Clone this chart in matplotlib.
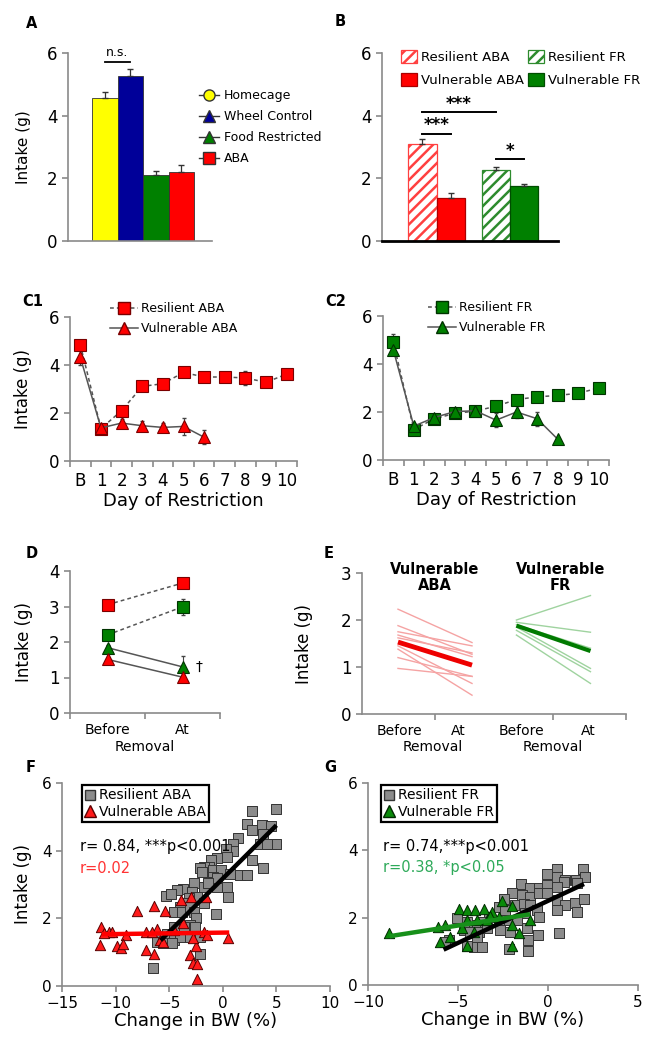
import numpy as np
import matplotlib
matplotlib.use('Agg')
import matplotlib.pyplot as plt
from matplotlib.lines import Line2D
from matplotlib.patches import Patch

plt.rcParams['font.family'] = ['DejaVu Sans']
plt.rcParams['hatch.linewidth'] = 1.8

# ---------------- data ----------------
# A
groups_a = ['Homecage', 'Wheel Control', 'Food Restricted', 'ABA']
intake_a = [4.57, 5.27, 2.1, 2.2]
sem_a = [0.17, 0.22, 0.12, 0.23]
ns_y = 5.72

# B
groups_b = ['Resilient ABA', 'Vulnerable ABA', 'Resilient FR', 'Vulnerable FR']
intake_b = [3.1, 1.38, 2.25, 1.75]
sem_b = [0.15, 0.14, 0.1, 0.07]
sig_pairs = [(0, 2), (0, 1), (2, 3)]
sig_y = [4.12, 3.42, 2.62]
sig_txt = ['***', '***', '*']

# C1 / C2
days = ['B', '1', '2', '3', '4', '5', '6', '7', '8', '9', '10']
res_aba = [4.85, 1.35, 2.1, 3.11, 3.22, 3.69, 3.5, 3.5, 3.46, 3.28, 3.62]
res_aba_sem = [0.15, 0.1, 0.15, 0.2, 0.15, 0.15, 0.2, 0.1, 0.3, 0.1, 0.12]
vul_aba = [4.32, 1.38, 1.58, 1.47, 1.4, 1.44, 0.99]
vul_aba_sem = [0.3, 0.1, 0.15, 0.2, 0.2, 0.35, 0.3]
res_fr = [4.92, 1.27, 1.72, 1.94, 2.04, 2.24, 2.52, 2.63, 2.69, 2.78, 3.0]
res_fr_sem = [0.35, 0.1, 0.1, 0.1, 0.1, 0.1, 0.1, 0.1, 0.1, 0.1, 0.15]
vul_fr = [4.6, 1.41, 1.77, 2.02, 2.05, 1.66, 2.0, 1.72, 0.87]
vul_fr_sem = [0.2, 0.1, 0.1, 0.1, 0.1, 0.3, 0.25, 0.3, 0.05]

# D
phase = ['Before', 'At']
d_res_aba = [3.05, 3.66]
d_res_aba_sem = [0.1, 0.15]
d_res_fr = [2.2, 2.99]
d_res_fr_sem = [0.08, 0.22]
d_vul_fr = [1.84, 1.3]
d_vul_fr_sem = [0.07, 0.3]
d_vul_aba = [1.51, 1.01]
d_vul_aba_sem = [0.05, 0.05]

# E (individual animals + group mean)
e_aba_before = [2.23, 1.88, 1.75, 1.68, 1.62, 1.45, 1.38, 1.2, 0.97]
e_aba_at = [1.52, 1.27, 1.45, 1.22, 1.3, 0.65, 0.4, 0.8, 0.8]
e_fr_before = [2.0, 1.95, 1.9, 1.85, 1.78, 1.68]
e_fr_at = [2.52, 1.74, 1.4, 0.97, 0.9, 0.65]
e_aba_mean = [1.53, 1.04]
e_fr_mean = [1.88, 1.34]

# F
fx_res = [2.76, 5.0, 2.23, 2.76, 3.68, 4.46, 3.75, 4.5, 5.0, 3.47, 4.1, 1.39, 0.99, 0.99, 0.28,
          -0.56, -1.08, -1.27, -1.73, -2.1, -1.95, -0.87, -0.15, 0.37, 0.68, 1.61, 2.23, 2.76,
          3.72, -0.87, -1.08, -1.24, -0.56, 0.37, 0.46, -0.56, -1.8, -1.42, -3.72, -4.27, -5.3,
          -4.83, -2.72, -2.88, -2.41, -3.19, -3.34, -3.96, -4.58, -3.81, -3.03, -2.72, -1.73,
          -0.62, -2.48, -3.03, -3.65, -4.58, -5.2, -5.82, -6.13, -5.57, -4.58, -3.96, -3.03,
          -2.1, -2.17, -6.5, -4.74, -2.63]
fy_res = [5.17, 5.22, 4.78, 4.6, 4.75, 4.72, 4.5, 4.2, 4.19, 4.19, 4.19, 4.38, 4.2, 4.0, 4.06,
          3.77, 3.72, 3.52, 3.52, 3.49, 3.37, 3.44, 3.42, 3.8, 3.32, 3.29, 3.29, 3.72, 3.5, 3.22,
          3.08, 2.98, 2.93, 2.93, 2.64, 3.2, 2.93, 3.05, 2.88, 2.83, 2.67, 2.73, 3.03, 2.78, 2.64,
          2.59, 2.44, 2.34, 2.19, 2.19, 2.34, 2.19, 2.44, 2.14, 2.0, 1.8, 1.75, 1.75, 1.55, 1.46,
          1.31, 1.26, 1.36, 1.46, 1.46, 1.46, 0.96, 0.52, 1.28, 1.75]
fx_vul = [-11.4, -11.5, -10.6, -10.3, -9.07, -9.85, -9.54, -9.29, -8.05, -7.12, -7.15, -6.44,
          -6.44, -6.13, -5.82, -5.42, -4.58, -3.9, -3.72, -2.94, -2.48, -3.1, -2.79, -2.42,
          -2.42, -1.55, -1.8, 0.46, -11.1, -6.6, -5.6, -2.79, -1.49]
fy_vul = [1.75, 1.21, 1.6, 1.6, 1.5, 1.18, 1.11, 1.24, 2.22, 1.6, 1.06, 0.94, 2.36, 1.67, 1.36,
          2.22, 1.65, 2.54, 1.85, 2.64, 1.18, 0.91, 0.67, 0.65, 0.2, 2.64, 1.6, 1.41, 1.57, 1.6,
          1.31, 1.41, 1.5]
f_fit_res_x, f_fit_res_y = [-5.8, 5.0], [1.35, 4.75]
f_fit_vul_x, f_fit_vul_y = [-11.3, 0.6], [1.53, 1.58]

# G
gx_res = [0.5, 1.93, -0.06, 0.5, 0.96, 1.57, 2.07, 0.87, -1.5, -0.98, -0.52, -0.06, 0.5, -2.0,
          -1.44, -0.98, -0.52, -0.06, 0.5, 0.96, 1.52, 1.98, 1.61, 0.5, -2.46, -2.74, -2.37,
          -1.81, -1.35, -0.98, -0.61, -0.52, -1.26, -1.72, -2.28, -2.74, -3.3, -3.67, -4.04,
          -4.5, -4.69, -4.31, -3.85, -3.39, -2.65, -2.09, -1.17, -1.13, -1.13, -2.19, -3.94,
          -4.13, -3.67, -4.5, -5.52, -5.7, -5.06, -0.57, 0.59, 1.61]
gy_res = [3.46, 3.46, 3.31, 3.21, 3.13, 3.11, 3.21, 3.06, 3.01, 2.87, 2.87, 2.96, 2.91, 2.72,
          2.67, 2.62, 2.72, 2.72, 2.52, 2.37, 2.44, 2.54, 2.17, 2.24, 2.54, 2.32, 2.22, 2.37,
          2.42, 2.37, 2.22, 2.03, 2.13, 1.93, 1.93, 1.88, 2.03, 1.88, 1.78, 1.88, 1.63, 1.58,
          1.58, 1.68, 1.63, 1.58, 1.68, 1.35, 1.02, 1.06, 1.39, 1.14, 1.14, 1.16, 1.33, 1.28,
          1.98, 1.50, 1.55, 3.03]
gx_vul = [-8.81, -6.13, -5.7, -5.98, -4.96, -4.5, -4.04, -3.57, -3.11, -2.56, -2.0, -4.5,
          -3.94, -3.39, -2.74, -2.0, -0.98, -4.5, -1.63, -2.0, -4.13, -4.78, -5.43, -3.2]
gy_vul = [1.53, 1.73, 1.78, 1.28, 2.27, 2.22, 2.22, 2.27, 2.17, 2.5, 2.35, 1.93, 1.93, 1.93,
          2.03, 1.78, 1.93, 1.16, 1.55, 1.16, 1.58, 1.68, 1.43, 2.05]
g_fit_res_x, g_fit_res_y = [-5.8, 2.0], [1.05, 3.0]
g_fit_vul_x, g_fit_vul_y = [-8.8, -1.0], [1.45, 2.1]

# ---------------- figure ----------------
W, H = 656, 1050
fig = plt.figure(figsize=(W / 100, H / 100), dpi=100)

RED, DRED = '#ff0000', '#7a0000'
GRN, DGRN = '#008000', '#003300'
AXC = '#8a8a8a'
LINEC = '#555555'


def box(l, t, r, b):
    return [l / W, 1 - b / H, (r - l) / W, (b - t) / H]


def style(ax, size=12):
    for s in ['top', 'right']:
        ax.spines[s].set_visible(False)
    for s in ['left', 'bottom']:
        ax.spines[s].set_color(AXC)
        ax.spines[s].set_linewidth(1.2)
    ax.tick_params(colors=AXC, labelcolor='black', direction='out', length=4,
                   width=1.2, labelsize=size)


def ylab(ax, right_px, size=12):
    ax.set_ylabel('Intake (g)', fontsize=size)
    p = ax.get_position()
    ax.yaxis.set_label_coords((right_px / W - p.x0) / p.width, 0.5)


def panel(txt, x, y):
    fig.text(x / W, 1 - y / H, txt, fontsize=10.5, fontweight='bold', va='center')


def figlegend(ax, handles, labels, x, y, **kw):
    opts = dict(loc='upper left', bbox_to_anchor=(x / W, 1 - y / H),
                bbox_transform=fig.transFigure, frameon=False, borderaxespad=0,
                borderpad=0, fontsize=9)
    opts.update(kw)
    return ax.legend(handles, labels, **opts)


# ---- A ----
axA = fig.add_axes(box(68, 53, 212, 241))
style(axA)
xa = np.arange(len(groups_a))
cols_a = ['#ffff00', '#000099', GRN, RED]
axA.bar(xa, intake_a, width=1.0, color=cols_a, edgecolor='#333333', linewidth=0.6,
        yerr=[np.zeros(len(sem_a)), sem_a],
        error_kw=dict(ecolor='#333333', elinewidth=0.9, capsize=2))
axA.set_xlim(-1.44, 4.2)
axA.set_ylim(0, 6)
axA.set_yticks([0, 2, 4, 6])
axA.set_xticks([])
axA.plot([xa[0], xa[1]], [ns_y, ns_y], color='black', lw=1.3)
axA.text((xa[0] + xa[1]) / 2, ns_y + 0.08, 'n.s.', ha='center', va='bottom', fontsize=9)
ylab(axA, 31, 11)
mk_a = ['o', '^', '^', 's']
hA = [Line2D([], [], color='#333333', lw=1, marker=m, mfc=c, mec='#333333', ms=8)
      for m, c in zip(mk_a, cols_a)]
figlegend(axA, hA, groups_a, 199, 89, handlelength=1.6, handletextpad=0.4,
          labelspacing=0.65)
panel('A', 26, 23)

# ---- B ----
axB = fig.add_axes(box(382, 53, 558, 241))
style(axB)
xb = np.array([0, 1, 2.6, 3.6])
fc_b = ['white', RED, 'white', GRN]
ec_b = ['#ff4040', '#aa0000', '#2e8b2e', '#004d00']
hatch_b = ['///', None, '///', None]
for i in range(len(groups_b)):
    axB.bar(xb[i], intake_b[i], width=1.0, color=fc_b[i], edgecolor=ec_b[i],
            hatch=hatch_b[i], linewidth=0.9,
            yerr=[[0], [sem_b[i]]], error_kw=dict(ecolor='#333333', elinewidth=0.9, capsize=2))
axB.set_xlim(-1.43, 4.8)
axB.set_ylim(0, 6)
axB.set_yticks([0, 2, 4, 6])
axB.set_xticks([])
axB.spines['bottom'].set_color('black')
axB.spines['bottom'].set_linewidth(2)
for (i, j), yv, t in zip(sig_pairs, sig_y, sig_txt):
    axB.plot([xb[i], xb[j]], [yv, yv], color='black', lw=1.4)
    axB.text((xb[i] + xb[j]) / 2, yv - 0.02, t, ha='center', va='bottom', fontsize=12,
             fontweight='bold')
hB = [Patch(facecolor=fc_b[k], edgecolor=ec_b[k], hatch=hatch_b[k], lw=0.9)
      for k in range(len(groups_b))]
figlegend(axB, hB, groups_b, 401, 50, ncol=2, handlelength=1.2, handleheight=1.1,
          handletextpad=0.3, columnspacing=0.35, labelspacing=0.7, fontsize=9.5)
panel('B', 335, 22)


# ---- C1 / C2 ----
def day_axis(ax):
    n = len(days)
    ax.set_xlim(-0.5, n - 0.5)
    ax.set_xticks(np.arange(-0.5, n, 1))
    ax.set_xticklabels([])
    ax.set_xticks(np.arange(n), minor=True)
    ax.set_xticklabels(days, minor=True)
    ax.tick_params(axis='x', which='minor', length=0, pad=8, labelsize=12)
    ax.set_ylim(0, 6)
    ax.set_yticks([0, 2, 4, 6])
    ax.set_xlabel('Day of Restriction', fontsize=13)
    ax.xaxis.set_label_coords(0.5, -0.215)


def course(ax, y, e, mk, fc, ec, ls):
    x = np.arange(len(y))
    ax.errorbar(x, y, yerr=e, fmt='none', ecolor='#444444', elinewidth=0.8, capsize=1.5,
                zorder=2)
    ax.plot(x, y, color=LINEC, lw=1.1, ls=ls, marker=mk, mfc=fc, mec=ec, mew=0.8, ms=8.5,
            zorder=3)


dash = (0, (2.5, 2))
axC1 = fig.add_axes(box(70, 317, 297, 461))
style(axC1)
day_axis(axC1)
course(axC1, res_aba, res_aba_sem, 's', RED, DRED, dash)
course(axC1, vul_aba, vul_aba_sem, '^', RED, DRED, '-')
ylab(axC1, 32)
hC1 = [Line2D([], [], color=LINEC, ls=dash, lw=1.1, marker='s', mfc=RED, mec=DRED, ms=8.5),
       Line2D([], [], color=LINEC, ls='-', lw=1.1, marker='^', mfc=RED, mec=DRED, ms=8.5)]
figlegend(axC1, hC1, ['Resilient ABA', 'Vulnerable ABA'], 110, 302, handlelength=2.2,
          handletextpad=0.3, labelspacing=0.55)
panel('C1', 22, 302)

axC2 = fig.add_axes(box(383, 316, 609, 460))
style(axC2)
day_axis(axC2)
course(axC2, res_fr, res_fr_sem, 's', GRN, DGRN, dash)
course(axC2, vul_fr, vul_fr_sem, '^', GRN, DGRN, '-')
hC2 = [Line2D([], [], color=LINEC, ls=dash, lw=1.1, marker='s', mfc=GRN, mec=DGRN, ms=8.5),
       Line2D([], [], color=LINEC, ls='-', lw=1.1, marker='^', mfc=GRN, mec=DGRN, ms=8.5)]
figlegend(axC2, hC2, ['Resilient FR', 'Vulnerable FR'], 428, 301, handlelength=2.2,
          handletextpad=0.3, labelspacing=0.55)
panel('C2', 325, 302)

# ---- D ----
axD = fig.add_axes(box(70, 571, 220, 713))
style(axD)
xd = np.arange(len(phase))
for y, e, mk, fc, ec, ls in [(d_res_aba, d_res_aba_sem, 's', RED, DRED, dash),
                             (d_res_fr, d_res_fr_sem, 's', GRN, DGRN, dash),
                             (d_vul_fr, d_vul_fr_sem, '^', GRN, DGRN, '-'),
                             (d_vul_aba, d_vul_aba_sem, '^', RED, DRED, '-')]:
    axD.errorbar(xd, y, yerr=e, fmt='none', ecolor='#444444', elinewidth=0.8, capsize=1.5,
                 zorder=2)
    axD.plot(xd, y, color=LINEC, lw=1.1, ls=ls, marker=mk, mfc=fc, mec=ec, mew=0.8, ms=9,
             zorder=3)
axD.text(xd[1] + 0.17, d_vul_fr[1], '\u2020', fontsize=10, va='center', ha='left')
axD.set_xlim(-0.5, 1.5)
axD.set_ylim(0, 4)
axD.set_yticks([0, 1, 2, 3, 4])
axD.set_xticks([-0.5, 0.5, 1.5])
axD.set_xticklabels([])
axD.set_xticks(xd, minor=True)
axD.set_xticklabels(phase, minor=True)
axD.tick_params(axis='x', which='minor', length=0, pad=7, labelsize=10)
ylab(axD, 33)
fig.text(145 / W, 1 - 747 / H, 'Removal', ha='center', va='center', fontsize=10)
panel('D', 26, 553)

# ---- E ----
axE = fig.add_axes(box(362, 573, 626, 714))
style(axE)
xe_aba = np.array([0.0, 1.0])
xe_fr = np.array([1.6, 2.6])
for b, a in zip(e_aba_before, e_aba_at):
    axE.plot(xe_aba, [b, a], color='#f5a3a3', lw=1.0)
for b, a in zip(e_fr_before, e_fr_at):
    axE.plot(xe_fr, [b, a], color='#9fd39f', lw=1.0)
axE.plot(xe_aba, e_aba_mean, color='#ee0000', lw=3.5, solid_capstyle='butt')
axE.plot(xe_fr, e_fr_mean, color='#007a00', lw=3.0, solid_capstyle='butt')
axE.set_xlim(-0.486, 3.08)
axE.set_ylim(0, 3)
axE.set_yticks([0, 1, 2, 3])
axE.set_xticks([0.5, 2.09, 3.08])
axE.set_xticklabels([])
axE.set_xticks([0.02, 0.81, 1.67, 2.57], minor=True)
axE.set_xticklabels(phase * 2, minor=True)
axE.tick_params(axis='x', which='minor', length=0, pad=7, labelsize=10)
axE.text(xe_aba.mean(), 2.9, 'Vulnerable\nABA', ha='center', va='center', fontsize=10.5,
         fontweight='bold', linespacing=1.1)
axE.text(xe_fr.mean() + 0.09, 2.9, 'Vulnerable\nFR', ha='center', va='center', fontsize=10.5,
         fontweight='bold', linespacing=1.1)
ylab(axE, 313)
fig.text(433 / W, 1 - 747 / H, 'Removal', ha='center', va='center', fontsize=10)
fig.text(553 / W, 1 - 747 / H, 'Removal', ha='center', va='center', fontsize=10)
panel('E', 324, 553)


# ---- F / G ----
def scatter_panel(ax, xr, yr, xv, yv, vcol, vedge, fit_r, fit_v, vfitcol):
    style(ax, 11)
    ax.scatter(xr, yr, marker='s', s=42, c='#8c8c8c', edgecolors='#333333', linewidths=0.7,
               zorder=2)
    ax.scatter(xv, yv, marker='^', s=55, c=vcol, edgecolors=vedge, linewidths=0.7, zorder=3)
    ax.plot(fit_r[0], fit_r[1], color='black', lw=3.2, zorder=4, solid_capstyle='butt')
    ax.plot(fit_v[0], fit_v[1], color=vfitcol, lw=3.2, zorder=4, solid_capstyle='butt')
    ax.set_ylim(0, 6)
    ax.set_yticks([0, 2, 4, 6])
    ax.set_xlabel('Change in BW (%)', fontsize=13)
    ax.xaxis.set_label_coords(0.5, -0.13)


axF = fig.add_axes(box(62, 783, 330, 986))
scatter_panel(axF, fx_res, fy_res, fx_vul, fy_vul, '#ff1a1a', '#5a0000',
              (f_fit_res_x, f_fit_res_y), (f_fit_vul_x, f_fit_vul_y), '#ff0000')
axF.set_xlim(-15, 10)
axF.set_xticks([-15, -10, -5, 0, 5, 10])
ylab(axF, 32)
axF.text(0.067, 0.685, 'r= 0.84, ***p<0.001', transform=axF.transAxes, fontsize=10.5,
         va='center', ha='left')
axF.text(0.067, 0.58, 'r=0.02', transform=axF.transAxes, fontsize=10.5, va='center',
         ha='left', color='#ff3333')
hF = [Line2D([], [], ls='none', marker='s', mfc='#8c8c8c', mec='#333333', ms=7),
      Line2D([], [], ls='none', marker='^', mfc='#ff1a1a', mec='#5a0000', ms=8)]
legF = figlegend(axF, hF, ['Resilient ABA', 'Vulnerable ABA'], 82, 785, frameon=True,
                 fancybox=False, edgecolor='black', framealpha=1, borderpad=0.25,
                 handlelength=0.7, handletextpad=0.25, labelspacing=0.15, fontsize=10)
legF.get_frame().set_linewidth(1.6)
panel('F', 26, 768)

axG = fig.add_axes(box(368, 783, 638, 985))
scatter_panel(axG, gx_res, gy_res, gx_vul, gy_vul, '#0a8a0a', '#002a00',
              (g_fit_res_x, g_fit_res_y), (g_fit_vul_x, g_fit_vul_y), '#17901a')
axG.set_xlim(-10, 5)
axG.set_xticks([-10, -5, 0, 5])
axG.text(0.056, 0.685, 'r= 0.74,***p<0.001', transform=axG.transAxes, fontsize=10.5,
         va='center', ha='left')
axG.text(0.056, 0.58, 'r=0.38, *p<0.05', transform=axG.transAxes, fontsize=10.5,
         va='center', ha='left', color='#2eaa5a')
hG = [Line2D([], [], ls='none', marker='s', mfc='#8c8c8c', mec='#333333', ms=7),
      Line2D([], [], ls='none', marker='^', mfc='#0a8a0a', mec='#002a00', ms=8)]
legG = figlegend(axG, hG, ['Resilient FR', 'Vulnerable FR'], 381, 785, frameon=True,
                 fancybox=False, edgecolor='black', framealpha=1, borderpad=0.25,
                 handlelength=0.7, handletextpad=0.25, labelspacing=0.15, fontsize=10)
legG.get_frame().set_linewidth(1.6)
panel('G', 324, 768)

fig.savefig('out.png', dpi=100)
